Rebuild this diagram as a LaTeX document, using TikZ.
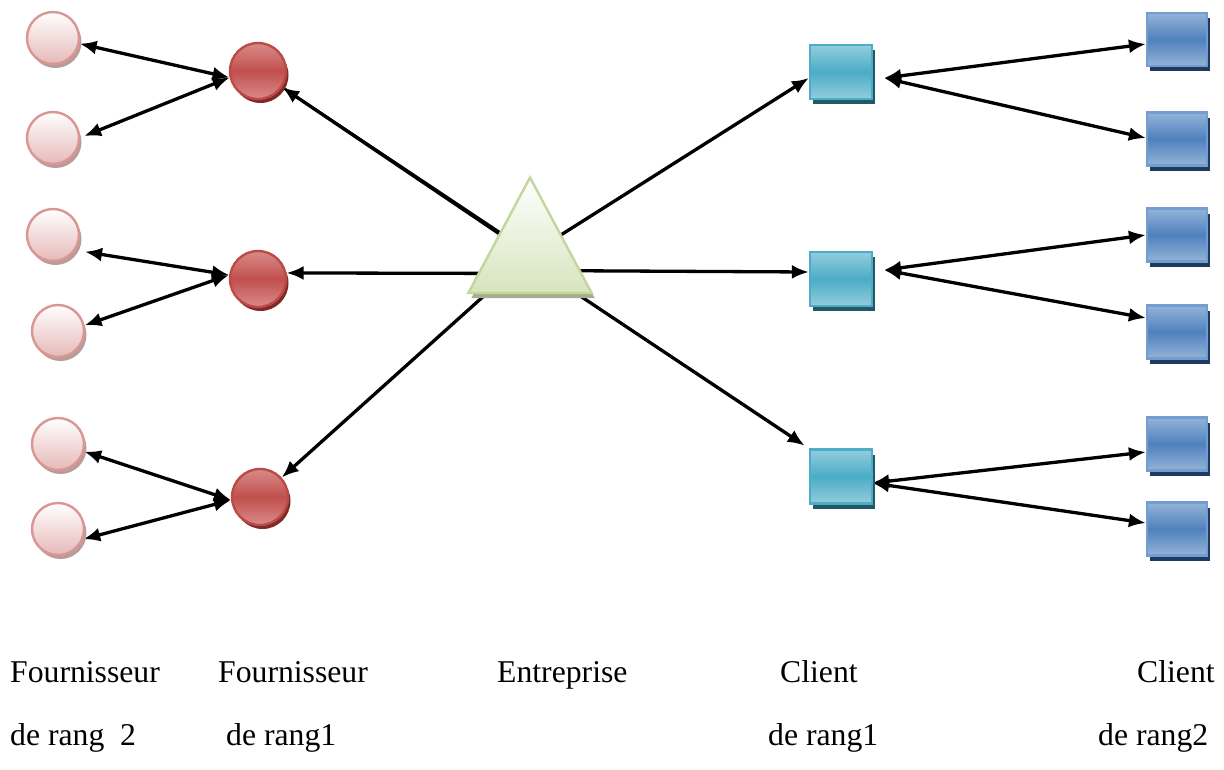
\documentclass[tikz,border=0pt]{standalone}
\usepackage{fontspec}
\setmainfont{Liberation Serif}
\usetikzlibrary{arrows.meta,shapes.geometric,shadows}
\pgfdeclarelayer{links}
\pgfsetlayers{links,main}

\definecolor{pinkBot}{HTML}{E6B9B8}
\definecolor{pinkLine}{HTML}{D99694}
\definecolor{pinkShadow}{HTML}{B89C9C}
\definecolor{redLight}{HTML}{D98B89}
\definecolor{redMid}{HTML}{C0504D}
\definecolor{redLine}{HTML}{BC4A47}
\definecolor{redShadow}{HTML}{7E2A28}
\definecolor{triBot}{HTML}{D7E4BD}
\definecolor{triLine}{HTML}{C3D69B}
\definecolor{triShadow}{HTML}{A4AE90}
\definecolor{tealLight}{HTML}{93CDDD}
\definecolor{tealMid}{HTML}{4BACC6}
\definecolor{tealLine}{HTML}{4DADC7}
\definecolor{tealShadow}{HTML}{215967}
\definecolor{blueLight}{HTML}{95B3D7}
\definecolor{blueMid}{HTML}{4F81BD}
\definecolor{blueLine}{HTML}{739DD0}
\definecolor{blueShadow}{HTML}{1F3A5F}

\begin{document}
\begin{tikzpicture}[x=1pt,y=-1pt,
  suptwo/.style={circle, inner sep=0pt, minimum size=52pt, line width=2.4pt,
    draw=pinkLine, top color=white, bottom color=pinkBot,
    general shadow={fill=pinkShadow, shadow xshift=2.5pt, shadow yshift=-4pt}},
  supone/.style={circle, inner sep=0pt, minimum size=56pt, line width=2.4pt,
    draw=redLine, top color=redLight, bottom color=redLight, middle color=redMid,
    general shadow={fill=redShadow, shadow xshift=2.5pt, shadow yshift=-4pt}},
  firm/.style={regular polygon, regular polygon sides=3, inner sep=0pt,
    minimum size=154pt, xscale=0.925, line width=2.4pt, draw=triLine,
    top color=white, bottom color=triBot,
    general shadow={fill=triShadow, shadow xshift=3pt, shadow yshift=-5pt}},
  clione/.style={rectangle, inner sep=0pt, minimum width=62pt, minimum height=54pt,
    line width=2.2pt, draw=tealLine, top color=tealLight, bottom color=tealLight,
    middle color=tealMid,
    general shadow={fill=tealShadow, shadow xshift=3pt, shadow yshift=-5pt}},
  clitwo/.style={rectangle, inner sep=0pt, minimum width=60pt, minimum height=53pt,
    line width=2.2pt, draw=blueLine, top color=blueLight, bottom color=blueLight,
    middle color=blueMid,
    general shadow={fill=blueShadow, shadow xshift=3pt, shadow yshift=-5pt}},
  link/.style={line width=3.3pt, -{Latex[length=17pt,width=14pt]}},
  blink/.style={line width=3.3pt, {Latex[length=17pt,width=14pt]}-{Latex[length=17pt,width=14pt]}},
  lbl/.style={anchor=base west, inner sep=0pt, font=\fontsize{31.7pt}{38pt}\selectfont}]

\useasboundingbox (0,0) rectangle (1224,769);

% second-tier suppliers
\node[suptwo] (p1) at (53,38) {};
\node[suptwo] (p2) at (53,138) {};
\node[suptwo] (p3) at (53,235) {};
\node[suptwo] (p4) at (58,331) {};
\node[suptwo] (p5) at (58,444) {};
\node[suptwo] (p6) at (58,529) {};

% first-tier suppliers
\node[supone] (r1) at (258,71) {};
\node[supone] (r2) at (258,279) {};
\node[supone] (r3) at (260,497) {};

% the firm
\begin{scope}[shift={(530,254.5)}]
  \node[firm] (ent) at (0,0) {};
\end{scope}

% first-tier clients
\node[clione] (t1) at (841,72) {};
\node[clione] (t2) at (841,279) {};
\node[clione] (t3) at (841,476.5) {};

% second-tier clients
\node[clitwo] (b1) at (1177,39.5) {};
\node[clitwo] (b2) at (1177,139) {};
\node[clitwo] (b3) at (1177,235) {};
\node[clitwo] (b4) at (1177,332) {};
\node[clitwo] (b5) at (1177,444) {};
\node[clitwo] (b6) at (1177,529) {};

\begin{pgfonlayer}{links}
  % supplier links
  \draw[blink] (p1.-12) -- (r1.193);
  \draw[blink] ([xshift=4pt]p2.4) -- (r1.193);
  \draw[blink] ([xshift=8pt,yshift=-4pt]p3.-28) -- (r2.172);
  \draw[blink] (p4.12) -- (r2.172);
  \draw[blink] (p5.-16) -- (r3.186);
  \draw[blink] (p6.-22) -- (r3.186);
  % firm to first-tier suppliers
  \draw[link] (ent.center) -- (r1);
  \draw[line width=2.4pt] ([xshift=-2pt,yshift=3.5pt]ent.center) -- (r1);
  \draw[link] ([yshift=-19pt]ent.center) -- (r2.12);
  \draw[link] (ent.center) -- (r3);
  % firm to first-tier clients
  \draw[link] (ent.center) -- ([yshift=-6pt]t1.west);
  \draw[link] ([yshift=-16pt]ent.center) -- ([yshift=7pt]t2.west);
  \draw[link, shorten >=5pt] ([yshift=-8pt]ent.center) -- (t3.north west);
  % client links
  \draw[blink] ([xshift=11pt,yshift=-6pt]t1.east) -- ([yshift=-4.5pt]b1.west);
  \draw[blink] ([xshift=11pt,yshift=-6pt]t1.east) -- ([yshift=1pt]b2.west);
  \draw[blink] ([xshift=11pt,yshift=9pt]t2.east) -- (b3.west);
  \draw[blink] ([xshift=11pt,yshift=9pt]t2.east) -- ([yshift=14pt]b4.west);
  \draw[blink] ([xshift=-1pt,yshift=-6.5pt]t3.east) -- ([yshift=-8pt]b5.west);
  \draw[blink] ([xshift=-1pt,yshift=-6.5pt]t3.east) -- ([yshift=6pt]b6.west);
\end{pgfonlayer}

% captions
\node[lbl] (c1) at (10,682) {Fournisseur};
\node[lbl] (c2) at (218,682) {Fournisseur};
\node[lbl] (c3) at (497,682) {Entreprise};
\node[lbl] (c4) at (780,682) {Client};
\node[lbl] (c5) at (1137,682) {Client};
\node[lbl] (d1) at (10,745) {de rang\ \ 2};
\node[lbl] (d2) at (226,745) {de rang1};
\node[lbl] (d4) at (768,745) {de rang1};
\node[lbl] (d5) at (1098,745) {de rang2};
\end{tikzpicture}
\end{document}
